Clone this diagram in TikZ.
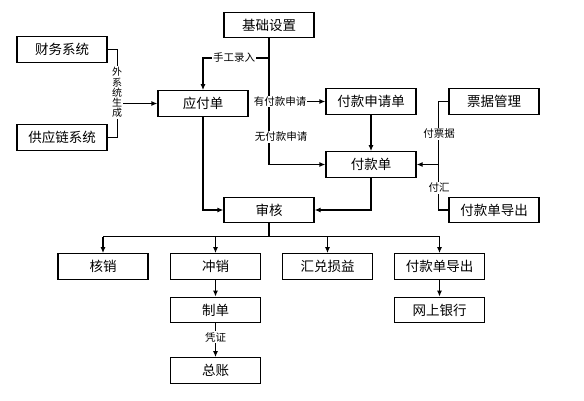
\documentclass[tikz,border=0pt]{standalone}
\usepackage{fontspec}
\newfontfamily\cjk{Noto Sans CJK SC}
\usetikzlibrary{arrows.meta}
\begin{document}
\begin{tikzpicture}[x=1pt,y=-1pt,
  box/.style={draw,line width=1.2pt,minimum width=90pt,minimum height=25.5pt,inner sep=0pt,font=\cjk\fontsize{13.5}{14}\selectfont},
  conn/.style={line width=1.2pt},
  arr/.style={conn,-{Latex[length=6pt,width=5pt]}},
  lbl/.style={fill=white,inner sep=1pt,font=\cjk\fontsize{10.5}{11}\selectfont}]
\useasboundingbox (0,0) rectangle (584,400);
% boxes
\node[box] (jc) at (269,25) {基础设置};
\node[box] (cw) at (62,49.5) {财务系统};
\node[box] (gy) at (62,137.5) {供应链系统};
\node[box] (yf) at (203,103.5) {应付单};
\node[box] (sq) at (371,101.5) {付款申请单};
\node[box] (pj) at (494,101.5) {票据管理};
\node[box] (fk) at (371,164.5) {付款单};
\node[box] (dca) at (494,210) {付款单导出};
\node[box] (sh) at (269,210) {审核};
\node[box] (hx) at (103,266.5) {核销};
\node[box] (cx) at (215.5,266.5) {冲销};
\node[box] (hd) at (327.5,266.5) {汇兑损益};
\node[box] (dcb) at (439.5,266.5) {付款单导出};
\node[box] (zd) at (215.5,310) {制单};
\node[box] (zz) at (215.5,370.5) {总账};
\node[box] (wy) at (439.5,310) {网上银行};
% external systems
\draw[conn] (cw.east) -- ++(10,0) |- (gy.east);
\coordinate (wm) at (117,103.5);
\draw[arr] (wm) -- (yf.west);
\node[lbl,align=center,font=\cjk\fontsize{10}{10.2}\selectfont] (wx) at (117,92.5) {外\\系\\统\\生\\成};
% main vertical
\draw[arr] (jc.south) |- (fk.west);
\coordinate (sg) at (269,58);
\draw[arr] (sg) -| (yf.north);
\node[lbl] (lsg) at (234,58) {手工录入};
\draw[arr] (jc.south |- sq.west) -- (sq.west);
\node[lbl] (lyf) at (280,101.5) {有付款申请};
\node[lbl] (lwf) at (281,137) {无付款申请};
\draw[arr] (sq.south) -- (fk.north);
% right side
\draw[conn] (pj.west) -- ++(-10,0) |- (dca.west);
\coordinate (pm) at (439,164.5);
\draw[arr] (pm) -- (fk.east);
\node[lbl] (lpj) at (439,134) {付票据};
\node[lbl] (lfh) at (439,188) {付汇};
% to audit
\draw[arr] (fk.south) |- (sh.east);
\draw[arr] (yf.south) |- (sh.west);
% bus
\draw[conn] (sh.south) -- ++(0,13.5) coordinate (bus);
\draw[conn] (hx.north |- bus) -- (dcb.north |- bus);
\draw[arr] (hx.north |- bus) -- (hx.north);
\draw[arr] (cx.north |- bus) -- (cx.north);
\draw[arr] (hd.north |- bus) -- (hd.north);
\draw[arr] (dcb.north |- bus) -- (dcb.north);
% lower
\draw[arr] (cx.south) -- (zd.north);
\draw[arr] (dcb.south) -- (wy.north);
\draw[arr] (zd.south) -- (zz.north);
\node[lbl] (lpz) at (215.5,337) {凭证};
\end{tikzpicture}
\end{document}
